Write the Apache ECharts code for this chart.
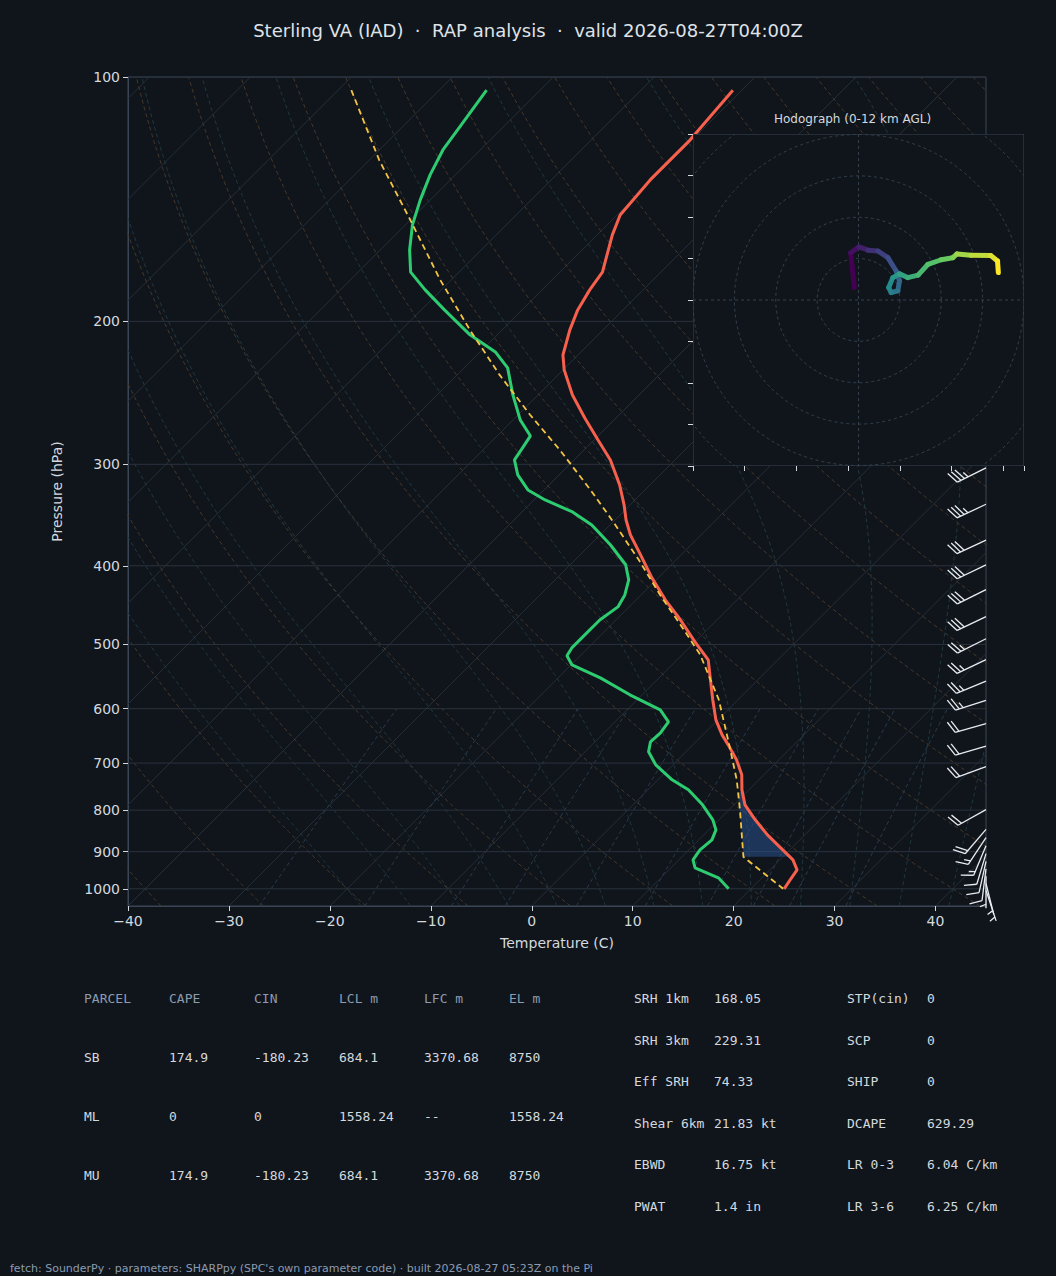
<!DOCTYPE html>
<html>
<head>
<meta charset="utf-8">
<script src="https://cdn.jsdelivr.net/npm/echarts@6/dist/echarts.min.js"></script>
<style>
  html, body { margin: 0; padding: 0; background: #10151c; }
  #chart-container { width: 1056px; height: 1276px; }
</style>
</head>
<body>
<div id="chart-container"></div>
<script>
var dom = document.getElementById('chart-container');
var myChart = echarts.init(dom, null, { renderer: 'svg' });

// sounding (hPa, C)
const tempP = [103.8, 119.6, 133.9, 147.9, 156.5, 173.9, 182.9, 193.6, 204.9, 220.0, 229.5, 246.4, 263.0, 280.0, 296.3, 318.1, 336.5, 351.3, 366.4, 387.9, 414.0, 440.6, 466.5, 496.4, 522.4, 552.9, 585.0, 619.3, 646.2, 664.8, 693.6, 723.6, 755.1, 788.1, 822.3, 858.1, 895.4, 921.1, 947.6, 974.8, 1000];
const tempT = [-60.9, -60.2, -60.2, -59.7, -58.5, -55.8, -55.3, -54.5, -53.3, -51.5, -49.9, -46.6, -43.1, -39.6, -36.4, -33.0, -30.6, -28.9, -27.0, -24.0, -20.6, -17.1, -13.6, -10.0, -6.9, -4.7, -2.5, -0.2, 1.9, 3.5, 5.8, 7.8, 9.3, 11.1, 13.6, 16.3, 19.3, 21.3, 22.7, 23.0, 23.3];
const dewP = [103.8, 113.0, 123.0, 132.0, 141.7, 152.1, 163.3, 173.9, 182.9, 193.6, 207.8, 218.1, 228.2, 246.4, 264.5, 276.8, 286.3, 296.3, 309.1, 322.6, 331.9, 343.4, 356.3, 376.9, 398.9, 416.4, 434.5, 449.5, 466.5, 486.7, 505.0, 516.4, 529.9, 549.8, 576.8, 602.0, 622.8, 642.6, 659.2, 678.1, 703.6, 734.0, 755.1, 788.1, 822.3, 846.0, 870.5, 895.4, 921.1, 942.3, 969.4, 1000];
const dewT = [-85.3, -84.5, -83.7, -82.5, -81.0, -79.3, -77.1, -74.8, -71.6, -67.7, -62.7, -58.5, -55.7, -52.5, -49.3, -46.7, -46.3, -45.9, -44.1, -41.6, -38.9, -35.0, -31.8, -28.0, -24.5, -22.7, -21.6, -21.1, -21.6, -21.6, -21.6, -21.3, -19.9, -15.8, -11.2, -6.7, -4.7, -4.4, -4.5, -3.7, -1.7, 1.4, 4.0, 6.9, 9.4, 10.7, 11.3, 11.1, 11.4, 12.4, 15.7, 17.8];
const parcelP = [103.8, 126.6, 150.0, 177.8, 204.9, 232.8, 260.8, 288.0, 322.6, 351.3, 393.3, 434.5, 473.1, 514.9, 585.0, 664.8, 734.0, 799.4, 913.4, 1000];
const parcelT = [-98.7, -89.0, -80.0, -71.1, -63.2, -55.8, -48.8, -42.4, -35.4, -30.3, -23.7, -18.1, -13.1, -8.2, -1.9, 3.6, 7.8, 11.1, 16.1, 23.2];

// winds (kt)
const barbP = [303, 336, 372, 399, 428, 462, 492, 522, 555, 586, 626, 667, 707, 799, 845, 865, 885, 905, 925, 945, 965, 985, 1005];
const barbU = [30, 30, 28, 27, 26, 25, 24, 23, 22, 22, 21, 20, 19, 18, 12, 8, 5, 3, 2, 1, 0, -1, -1];
const barbV = [15, 14, 13, 13, 13, 12, 12, 11, 9, 7, 6, 6, 7, 10, 14, 12, 12, 10, 9, 8, 6, 4, 3];
const hodoU = [-1.0, -1.9, 0.1, 2.3, 4.7, 7.1, 9.1, 9.9, 9.5, 7.9, 7.3, 8.3, 9.9, 11.9, 14.4, 16.8, 20.0, 22.8, 23.8, 27.2, 32.0, 33.6, 33.8];
const hodoV = [3.0, 11.4, 12.8, 12.0, 11.8, 10.2, 7.0, 4.6, 2.2, 1.8, 3.0, 5.4, 6.3, 5.4, 6.0, 8.6, 9.7, 10.2, 11.1, 10.8, 10.7, 9.4, 6.6];

const pressureTicks = [100, 200, 300, 400, 500, 600, 700, 800, 900, 1000];

// parameter tables
const parcelHeader = ['PARCEL', 'CAPE', 'CIN', 'LCL m', 'LFC m', 'EL m'];
const parcelRows = [
    ['SB', '174.9', '-180.23', '684.1', '3370.68', '8750'],
    ['ML', '0', '0', '1558.24', '--', '1558.24'],
    ['MU', '174.9', '-180.23', '684.1', '3370.68', '8750']
];
const paramsLeft = [['SRH 1km', '168.05'], ['SRH 3km', '229.31'], ['Eff SRH', '74.33'], ['Shear 6km', '21.83 kt'], ['EBWD', '16.75 kt'], ['PWAT', '1.4 in']];
const paramsRight = [['STP(cin)', '0'], ['SCP', '0'], ['SHIP', '0'], ['DCAPE', '629.29'], ['LR 0-3', '6.04 C/km'], ['LR 3-6', '6.25 C/km']];

const PBOT = 1050, PTOP = 100;
const SKEW = (829 / Math.log10(PBOT / PTOP)) / (858 / 85);
const lp = p => Math.log10(p);
const sx = (t, p) => t + SKEW * Math.log10(PBOT / p);
const prof = (P, T) => P.map((p, i) => [sx(T[i], p), lp(p)]);

// background lines
const bgSeries = [];
function bgLine(pts, color, type, width) {
    bgSeries.push({
        type: 'line', data: pts, symbol: 'none', silent: true, z: 1,
        lineStyle: { color: color, type: type, width: width || 1 },
        clip: true, animation: false
    });
}
const levels = [];
for (let p = PBOT; p >= PTOP; p -= 10) levels.push(p);
levels.push(PTOP);
for (let t = -140; t <= 50; t += 10) bgLine([[sx(t, PBOT), lp(PBOT)], [sx(t, PTOP), lp(PTOP)]], '#262e38', 'solid', 1);
for (let th = -40; th <= 200; th += 10) {
    bgLine(levels.map(p => [sx((th + 273.15) * Math.pow(p / 1000, 0.2857) - 273.15, p), lp(p)]), '#46382a', [4, 3], 1);
}
function es(t) { return 6.112 * Math.exp(17.67 * t / (t + 243.5)); }
for (let t0 = -20; t0 <= 45; t0 += 5) {
    let T, p, up = [], dn = [];
    for (let dir of [-1, 1]) {
        T = t0 + 273.15; p = 1000;
        const arr = dir < 0 ? up : dn;
        while (dir < 0 ? p > PTOP : p < PBOT) {
            arr.push([sx(T - 273.15, p), lp(p)]);
            const rs = 0.622 * es(T - 273.15) / (p - es(T - 273.15));
            const dTdp = (287 * T + 2.5e6 * rs) / (1004 + 2.5e6 * 2.5e6 * rs * 0.622 / (287 * T * T)) / p;
            const dp = dir * 5;
            T += dTdp * dp; p += dp;
        }
        arr.push([sx(T - 273.15, p), lp(p)]);
    }
    bgLine(dn.reverse().concat(up), '#20393f', [4, 3], 1);
}
[0.4, 1, 2, 3, 5, 8, 12, 16, 20, 28].forEach(w => {
    const pts = [];
    for (let p = PBOT; p >= 600; p -= 25) {
        const e = w * p / (622 + w), l = Math.log(e / 6.112);
        pts.push([sx(243.5 * l / (17.67 - l), p), lp(p)]);
    }
    bgLine(pts, '#2a3a4c', [4, 3], 1);
});
pressureTicks.forEach(p => bgLine([[-40, lp(p)], [45, lp(p)]], '#2a323d', 'solid', 1));

function interp(P, T, p) {
    for (let i = 0; i < P.length - 1; i++) {
        if ((p - P[i]) * (p - P[i + 1]) <= 0) {
            const f = (lp(p) - lp(P[i])) / (lp(P[i + 1]) - lp(P[i]));
            return T[i] + f * (T[i + 1] - T[i]);
        }
    }
    return T[T.length - 1];
}

function speedBarbs(u, v, base) {
    const s = Math.round(Math.hypot(u, v) / 5) * 5;
    const L = 32, len = Math.hypot(u, v) || 1;
    const d = [-u / len, v / len];
    const n = [-d[1], d[0]];
    const tip = [base[0] + d[0] * L, base[1] + d[1] * L];
    const els = [{ type: 'line', shape: { x1: base[0], y1: base[1], x2: tip[0], y2: tip[1] }, style: { stroke: '#e8ecf0', lineWidth: 1.3 } }];
    let full = Math.floor(s / 10), half = s % 10 >= 5 ? 1 : 0, k = 0;
    const put = (bl) => {
        const px = tip[0] - d[0] * k * 4, py = tip[1] - d[1] * k * 4;
        els.push({ type: 'line', shape: { x1: px, y1: py, x2: px + n[0] * bl + d[0] * bl * 0.4, y2: py + n[1] * bl + d[1] * bl * 0.4 }, style: { stroke: '#e8ecf0', lineWidth: 1.3 } });
        k++;
    };
    for (let i = 0; i < full; i++) put(12);
    if (half) { if (k === 0) k = 1; put(6); }
    return els;
}

const viridis = ['#440154', '#3b528b', '#21918c', '#5ec962', '#fde725'];
function viridisAt(f) {
    const x = f * (viridis.length - 1), i = Math.min(Math.floor(x), viridis.length - 2), r = x - i;
    const a = echarts.color.parse(viridis[i]), b = echarts.color.parse(viridis[i + 1]);
    return 'rgb(' + [0, 1, 2].map(j => Math.round(a[j] + (b[j] - a[j]) * r)).join(',') + ')';
}

const txtColor = '#d4d9df';
const graphics = [];
parcelHeader.forEach((h, i) => graphics.push({ type: 'text', left: 84 + i * 85, top: 992, style: { text: h, fill: '#8c9bb0', font: '13px "DejaVu Sans Mono"' } }));
parcelRows.forEach((row, r) => row.forEach((c, i) => graphics.push({ type: 'text', left: 84 + i * 85, top: 1051 + r * 59, style: { text: c, fill: txtColor, font: '13px "DejaVu Sans Mono"' } })));
paramsLeft.forEach((row, r) => row.forEach((c, i) => graphics.push({ type: 'text', left: 634 + i * 80, top: 992 + r * 41.6, style: { text: c, fill: txtColor, font: '13px "DejaVu Sans Mono"' } })));
paramsRight.forEach((row, r) => row.forEach((c, i) => graphics.push({ type: 'text', left: 847 + i * 80, top: 992 + r * 41.6, style: { text: c, fill: txtColor, font: '13px "DejaVu Sans Mono"' } })));
graphics.push({ type: 'text', left: 10, top: 1263, style: { text: "fetch: SounderPy · parameters: SHARPpy (SPC's own parameter code) · built 2026-08-27 05:23Z on the Pi", fill: '#8c9bb0', font: '11px "DejaVu Sans"' } });
graphics.push({ type: 'text', left: 774, top: 113, z: 30, style: { text: 'Hodograph (0-12 km AGL)', fill: txtColor, font: '12px "DejaVu Sans"' } });

var option = {
    backgroundColor: '#10151c',
    animation: false,
    title: {
        text: 'Sterling VA (IAD)  ·  RAP analysis  ·  valid 2026-08-27T04:00Z',
        left: 'center', top: 16,
        textStyle: { color: '#dfe3e8', fontSize: 18, fontWeight: 'normal', fontFamily: 'DejaVu Sans' }
    },
    graphic: graphics,
    grid: [
        { left: 128, top: 77, width: 858, height: 829, show: true, borderColor: '#3a4656', backgroundColor: 'transparent' },
        { left: 693, top: 134, width: 331, height: 332 }
    ],
    xAxis: [
        {
            gridIndex: 0, type: 'value', min: -40, max: 45, interval: 10,
            name: 'Temperature (C)', nameLocation: 'middle', nameGap: 30,
            nameTextStyle: { color: txtColor, fontSize: 14, fontFamily: 'DejaVu Sans' },
            axisLine: { onZero: false, lineStyle: { color: '#3a4656' } },
            axisTick: { lineStyle: { color: txtColor } },
            axisLabel: { color: txtColor, fontSize: 14, fontFamily: 'DejaVu Sans', formatter: v => v > 40 ? '' : String(v).replace('-', '\u2212'), showMaxLabel: false },
            splitLine: { show: false }
        },
        {
            gridIndex: 1, type: 'value', min: -40, max: 40, interval: 12.5, z: 20,
            axisLine: { show: false, onZero: false }, axisLabel: { show: false },
            axisTick: { lineStyle: { color: txtColor } }, splitLine: { show: false }
        }
    ],
    yAxis: [
        {
            gridIndex: 0, type: 'value', inverse: true, min: lp(PTOP), max: lp(PBOT),
            name: 'Pressure (hPa)', nameLocation: 'middle', nameGap: 64,
            nameTextStyle: { color: txtColor, fontSize: 14, fontFamily: 'DejaVu Sans' },
            axisLine: { onZero: false, lineStyle: { color: '#3a4656' } },
            axisTick: { customValues: pressureTicks.map(lp), lineStyle: { color: txtColor } },
            axisLabel: { customValues: pressureTicks.map(lp), color: txtColor, fontSize: 14, fontFamily: 'DejaVu Sans', formatter: v => String(Math.round(Math.pow(10, v))) },
            splitLine: { show: false }
        },
        {
            gridIndex: 1, type: 'value', min: -40, max: 40, interval: 10, z: 20,
            axisLine: { show: false, onZero: false }, axisLabel: { show: false },
            axisTick: { lineStyle: { color: txtColor } }, splitLine: { show: false }
        }
    ],
    series: bgSeries.concat([
        {
            type: 'custom', z: 3, silent: true, data: [0],
            renderItem: function (params, api) {
                const pts = [];
                const lo = 760, hi = 913.4;
                const ps = [lo];
                tempP.forEach(p => { if (p > lo && p < hi) ps.push(p); });
                ps.push(hi);
                ps.forEach(p => pts.push(api.coord([sx(interp(parcelP, parcelT, p), p), lp(p)])));
                ps.slice().reverse().forEach(p => pts.push(api.coord([sx(interp(tempP, tempT, p), p), lp(p)])));
                return { type: 'polygon', shape: { points: pts }, style: { fill: 'rgba(40,80,140,0.55)' } };
            }
        },
        { type: 'line', data: prof(dewP, dewT), symbol: 'none', z: 5, lineStyle: { color: '#2ecc71', width: 3 } },
        { type: 'line', data: prof(tempP, tempT), symbol: 'none', z: 5, lineStyle: { color: '#f7604c', width: 3 } },
        { type: 'line', data: prof(parcelP, parcelT), symbol: 'none', z: 6, lineStyle: { color: '#f4c542', width: 1.8, type: [6, 4] } },
        {
            type: 'custom', z: 6, silent: true, clip: false,
            data: barbP.map((p, i) => [45, lp(p), barbU[i], barbV[i]]),
            renderItem: function (params, api) {
                const base = api.coord([api.value(0), api.value(1)]);
                return { type: 'group', children: speedBarbs(api.value(2), api.value(3), base) };
            }
        },
        // hodograph panel
        {
            type: 'custom', xAxisIndex: 1, yAxisIndex: 1, z: 10, silent: true, data: [0],
            renderItem: function (params, api) {
                const a = api.coord([-40, 40]), b = api.coord([40, -40]), c = api.coord([0, 0]);
                const unit = (b[0] - a[0]) / 80;
                const kids = [{ type: 'rect', shape: { x: a[0], y: a[1], width: b[0] - a[0], height: b[1] - a[1] }, style: { fill: '#10151c', stroke: '#3a4656', lineWidth: 1 } }];
                for (let r = 10; r <= 50; r += 10) {
                    kids.push({ type: 'circle', shape: { cx: c[0], cy: c[1], r: r * unit }, style: { fill: 'none', stroke: '#34404e', lineWidth: 1, lineDash: [3, 3] } });
                }
                kids.push({ type: 'line', shape: { x1: a[0], y1: c[1], x2: b[0], y2: c[1] }, style: { stroke: '#34404e', lineDash: [3, 3] } });
                kids.push({ type: 'line', shape: { x1: c[0], y1: a[1], x2: c[0], y2: b[1] }, style: { stroke: '#34404e', lineDash: [3, 3] } });
                return {
                    type: 'group', children: kids,
                    clipPath: { type: 'rect', shape: { x: a[0], y: a[1], width: b[0] - a[0], height: b[1] - a[1] } }
                };
            }
        },
        {
            type: 'custom', xAxisIndex: 1, yAxisIndex: 1, z: 12, silent: true,
            data: hodoU.map((u, i) => [u, hodoV[i], i]),
            renderItem: function (params, api) {
                const i = api.value(2);
                if (i >= hodoU.length - 1) return;
                const p1 = api.coord([hodoU[i], hodoV[i]]), p2 = api.coord([hodoU[i + 1], hodoV[i + 1]]);
                return { type: 'line', shape: { x1: p1[0], y1: p1[1], x2: p2[0], y2: p2[1] }, style: { stroke: viridisAt(i / (hodoU.length - 2)), lineWidth: 5, lineCap: 'round' } };
            }
        }
    ])
};
myChart.setOption(option);
window.addEventListener('resize', myChart.resize);
</script>
</body>
</html>
